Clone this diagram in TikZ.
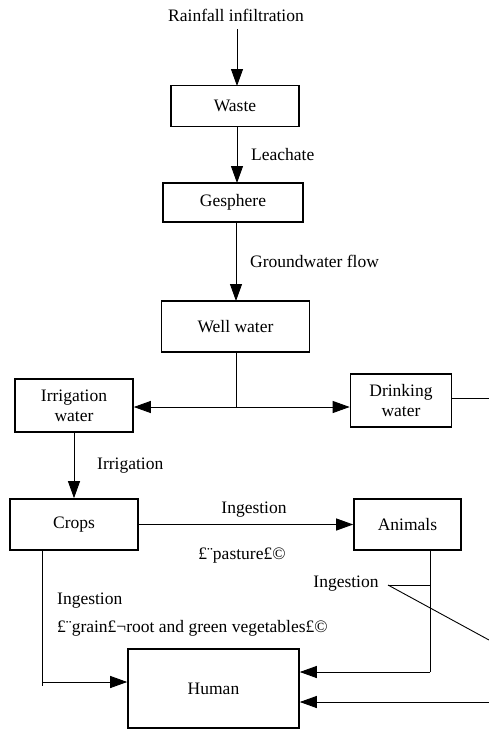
\documentclass[tikz,border=0pt]{standalone}
\usepackage{fontspec}
\setmainfont{Liberation Serif}
\usetikzlibrary{arrows.meta,calc}
\tikzset{
  box/.style={draw, line width=1.6pt, inner sep=0pt, align=center, font=\fontsize{17.5}{20}\selectfont},
  lbl/.style={inner sep=0pt, font=\fontsize{17.5}{20}\selectfont},
  con/.style={line width=0.9pt},
  arr/.style={con, -{Triangle[length=17pt,width=12pt]}},
}
\begin{document}
\begin{tikzpicture}[x=1pt,y=-1pt]
\useasboundingbox (0,0) rectangle (489,729);
% nodes
\node[lbl] (rain) at (236,15) {Rainfall infiltration};
\node[box, minimum width=128, minimum height=41] (waste) at (235,106) {Waste};
\node[box, minimum width=140, minimum height=39] (ges) at (233,202.5) {Gesphere};
\node[box, minimum width=148, minimum height=51] (well) at (235.5,326.5) {Well water};
\node[box, minimum width=118, minimum height=53] (irr) at (74,405.5) {Irrigation\\water};
\node[box, minimum width=101, minimum height=53] (drink) at (401,400.5) {Drinking\\water};
\node[box, minimum width=128, minimum height=51] (crops) at (74,524.5) {Crops};
\node[box, minimum width=107, minimum height=51] (animals) at (407.5,524.5) {Animals};
\node[box, minimum width=171, minimum height=79] (human) at (213.5,688.5) {Human};
% labels
\node[lbl, anchor=west] (leach) at (251,155) {Leachate};
\node[lbl, anchor=west] (gw) at (250,261) {Groundwater flow};
\node[lbl, anchor=west] (irrl) at (97,466) {Irrigation};
\node[lbl] (ing1) at (254,510) {Ingestion};
\node[lbl] (past) at (242,556) {£¨pasture£©};
\node[lbl] (ing2) at (346,584) {Ingestion};
\node[lbl, anchor=west] (ing3) at (57,601) {Ingestion};
\node[lbl, anchor=west] (grain) at (57,628) {£¨grain£¬root and green vegetables£©};
% coordinates
\coordinate (j1) at (236,407);
\coordinate (redge) at (489,398);
\coordinate (c1) at (42,551);
\coordinate (c2) at (42,686);
\coordinate (c3) at (42,682);
\coordinate (a1) at (430,551);
\coordinate (a2) at (430,672);
\coordinate (i1) at (388,585);
\coordinate (i2) at (489,640);
\coordinate (b1) at (489,702);
% connectors
\draw[arr] ([yshift=-8pt]rain.south -| 237,0) -- (237,86);
\draw[arr] (237,127) -- (237,183);
\draw[arr] (236,222) -- (236,301);
\draw[con] (236,352) -- (j1);
\draw[arr] (j1) -- (j1 -| irr.east);
\draw[arr] (j1) -- (j1 -| drink.west);
\draw[con] (drink.east |- redge) -- (redge);
\draw[arr] (irr.south) -- (crops.north);
\draw[arr] (crops.east) -- (animals.west);
\draw[con] (c1) -- (c2);
\draw[arr] (c3) -- (c3 -| human.west);
\draw[con] (a1) -- (a2);
\draw[arr] (a2) -- (a2 -| human.east);
\draw[arr] (b1) -- (b1 -| human.east);
\draw[con] (i1) -- (i1 -| a1);
\draw[con] (i1) -- (i2);
\end{tikzpicture}
\end{document}
